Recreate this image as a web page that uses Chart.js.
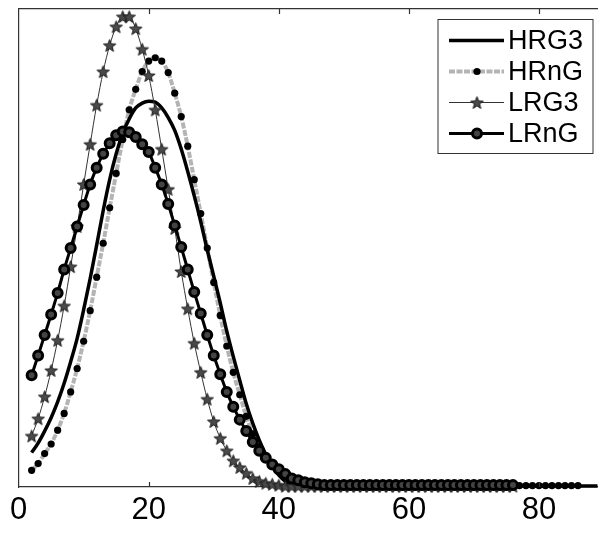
<!DOCTYPE html>
<html>
<head>
<meta charset="utf-8">
<script src="https://cdn.jsdelivr.net/npm/chart.js@4/dist/chart.umd.min.js"></script>
<style>
  html, body { margin: 0; padding: 0; background: #fff; overflow: hidden; }
  canvas { display: block; }
</style>
</head>
<body>
<canvas id="myChart1" width="605" height="534"></canvas>
<script>
// x positions of the samples (shared by all four series)
const xs = [2,3,4,5,6,7,8,9,10,11,12,13,14,15,16,17,18,19,20,21,22,23,24,25,26,27,28,29,30,
  31,32,33,34,35,36,37,38,39,40,41,42,43,44,45,46,47,48,49,50,51,52,53,54,55,56,57,58,59,60,
  61,62,63,64,65,66,67,68,69,70,71,72,73,74,75,76,77,78,79,80,81,82,83,84,85,86,87,88,89];

const xTicks = [0, 20, 40, 60, 80];
const seriesNames = ['HRG3', 'HRnG', 'LRG3', 'LRnG'];

// HRG3 (x = 2..89)
const hrg3 = [0.0072,0.0092,0.0117,0.0145,0.0178,0.0217,0.0262,0.0311,0.0371,0.0436,
  0.0506,0.0578,0.0643,0.0697,0.0740,0.0770,0.0793,0.0803,0.0807,0.0805,
  0.0793,0.0773,0.0746,0.0707,0.0660,0.0609,0.0555,0.0496,0.0441,0.0385,
  0.0326,0.0273,0.0223,0.0174,0.0133,0.0098,0.0068,0.0043,0.0025,0.0012,0.0006,
  0.0002,0.0002,0.0002,0.0002,0.0002,0.0002,0.0002,0.0002,0.0002,0.0002,
  0.0002,0.0002,0.0002,0.0002,0.0002,0.0002,0.0002,0.0002,0.0002,0.0002,
  0.0002,0.0002,0.0002,0.0002,0.0002,0.0002,0.0002,0.0002,0.0002,0.0002,
  0.0002,0.0002,0.0002,0.0002,0.0002,0.0002,0.0002,0.0002,0.0002,0.0002,
  0.0002,0.0002,0.0002,0.0002,0.0002,0.0002,0.0002];

// HRnG (x = 2..86)
const hrng = [0.0035,0.0049,0.0070,0.0090,0.0119,0.0154,0.0199,0.0248,0.0305,0.0369,
  0.0439,0.0510,0.0584,0.0656,0.0727,0.0789,0.0832,0.0869,0.0891,0.0898,
  0.0891,0.0867,0.0824,0.0775,0.0713,0.0643,0.0572,0.0500,0.0428,0.0359,
  0.0295,0.0240,0.0193,0.0148,0.0111,0.0084,0.0064,0.0047,0.0035,0.0025,
  0.0016,0.0012,0.0008,0.0006,0.0004,
  0.0003,0.0003,0.0003,0.0003,0.0003,0.0003,0.0003,0.0003,0.0003,0.0003,
  0.0003,0.0003,0.0003,0.0003,0.0003,0.0003,0.0003,0.0003,0.0003,0.0003,
  0.0003,0.0003,0.0003,0.0003,0.0003,0.0003,0.0003,0.0003,0.0003,0.0003,
  0.0003,0.0003,0.0003,0.0003,0.0003,0.0003,0.0003,0.0003,0.0003,0.0003];

// LRG3 (x = 2..76)
const lrg3 = [0.0107,0.0143,0.0189,0.0244,0.0307,0.0379,0.0461,0.0545,0.0633,0.0717,
  0.0799,0.0869,0.0924,0.0963,0.0984,0.0984,0.0959,0.0916,0.0861,0.0789,
  0.0707,0.0623,0.0541,0.0451,0.0373,0.0301,0.0240,0.0184,0.0137,0.0102,
  0.0076,0.0055,0.0041,0.0029,0.0018,0.0012,0.0008,0.0006,0.0004,
  0.0002,0.0002,0.0002,0.0002,0.0002,0.0002,0.0002,0.0002,0.0002,0.0002,
  0.0002,0.0002,0.0002,0.0002,0.0002,0.0002,0.0002,0.0002,0.0002,0.0002,
  0.0002,0.0002,0.0002,0.0002,0.0002,0.0002,0.0002,0.0002,0.0002,0.0002,
  0.0002,0.0002,0.0002,0.0002,0.0002,0.0002];

// LRnG (x = 2..76)
const lrng = [0.0234,0.0275,0.0318,0.0361,0.0406,0.0455,0.0500,0.0545,0.0590,0.0633,
  0.0668,0.0697,0.0719,0.0736,0.0744,0.0742,0.0732,0.0717,0.0701,0.0668,
  0.0633,0.0592,0.0547,0.0502,0.0455,0.0408,0.0363,0.0318,0.0275,0.0236,
  0.0199,0.0168,0.0141,0.0117,0.0094,0.0076,0.0061,0.0047,0.0037,0.0027,
  0.0018,0.0014,0.0010,0.0008,0.0006,
  0.0004,0.0004,0.0004,0.0004,0.0004,0.0004,0.0004,0.0004,0.0004,0.0004,
  0.0004,0.0004,0.0004,0.0004,0.0004,0.0004,0.0004,0.0004,0.0004,0.0004,
  0.0004,0.0004,0.0004,0.0004,0.0004,0.0004,0.0004,0.0004,0.0004,0.0004];

const FONT = '"Liberation Sans", Arial, Helvetica, sans-serif';

// filled pentagram marker like matlab's 'p'
function makeStar(r) {
  const c = document.createElement('canvas');
  const s = Math.ceil(r * 2 + 4);
  c.width = s; c.height = s;
  const g = c.getContext('2d');
  g.translate(s / 2, s / 2 + r * 0.1);
  g.beginPath();
  for (let k = 0; k < 10; k++) {
    const a = -Math.PI / 2 + k * Math.PI / 5;
    const rr = (k % 2) ? r * 0.42 : r;
    g.lineTo(rr * Math.cos(a), rr * Math.sin(a));
  }
  g.closePath();
  g.fillStyle = '#4a4a4a';
  g.fill();
  g.strokeStyle = '#1a1a1a';
  g.lineWidth = 1;
  g.stroke();
  return c;
}
const starImg = makeStar(6.5);

// small inward ticks on bottom and top edges
const inwardTicks = {
  id: 'inwardTicks',
  afterDraw(chart) {
    const ctx = chart.ctx, a = chart.chartArea, sx = chart.scales.x;
    ctx.save();
    ctx.strokeStyle = '#333';
    ctx.lineWidth = 1.2;
    xTicks.forEach(v => {
      if (v === 0) return;
      const px = Math.round(sx.getPixelForValue(v)) + 0.5;
      ctx.beginPath();
      ctx.moveTo(px, a.bottom); ctx.lineTo(px, a.bottom - 5);
      ctx.moveTo(px, a.top); ctx.lineTo(px, a.top + 5);
      ctx.stroke();
    });
    ctx.restore();
  }
};

// boxed legend inside the top right corner, line sample with marker
const boxLegend = {
  id: 'boxLegend',
  afterDatasetsDraw(chart) {
    const ctx = chart.ctx, a = chart.chartArea;
    const w = 155, h = 134;
    const x0 = a.right - w - 4.5, y0 = a.top + 10.5;
    ctx.save();
    ctx.fillStyle = '#fff';
    ctx.fillRect(x0, y0, w, h);
    ctx.strokeStyle = '#333';
    ctx.lineWidth = 1;
    ctx.strokeRect(x0, y0, w, h);
    chart.data.datasets.forEach((ds, i) => {
      const cy = y0 + 21 + i * 31;
      ctx.save();
      ctx.strokeStyle = ds.borderColor;
      ctx.lineWidth = ds.borderWidth;
      ctx.setLineDash(ds.borderDash || []);
      ctx.beginPath();
      ctx.moveTo(x0 + 11, cy); ctx.lineTo(x0 + 66, cy);
      ctx.stroke();
      ctx.restore();
      const mx = x0 + 39;
      if (ds.pointStyle === starImg) {
        ctx.drawImage(starImg, mx - starImg.width / 2, cy - starImg.height / 2);
      } else if (ds.pointRadius > 0) {
        ctx.beginPath();
        ctx.arc(mx, cy, ds.pointRadius, 0, Math.PI * 2);
        ctx.fillStyle = ds.pointBackgroundColor;
        ctx.fill();
        if (ds.pointBorderWidth) {
          ctx.lineWidth = ds.pointBorderWidth;
          ctx.strokeStyle = ds.pointBorderColor;
          ctx.stroke();
        }
      }
      ctx.fillStyle = '#000';
      ctx.font = '27px ' + FONT;
      ctx.textBaseline = 'middle';
      ctx.fillText(ds.label, x0 + 70, cy + 1);
    });
    ctx.restore();
  }
};

const ctx = document.getElementById('myChart1').getContext('2d');
const chart = new Chart(ctx, {
  type: 'line',
  data: {
    labels: xs,
    datasets: [
      {
        label: seriesNames[0],
        data: hrg3,
        borderColor: '#000',
        borderWidth: 3.5,
        pointRadius: 0,
        cubicInterpolationMode: 'monotone',
        order: 3
      },
      {
        label: seriesNames[1],
        data: hrng,
        borderColor: '#b4b4b4',
        borderWidth: 4,
        borderDash: [6, 1.5],
        pointStyle: 'circle',
        pointRadius: 3.6,
        pointBackgroundColor: '#000',
        pointBorderColor: '#000',
        pointBorderWidth: 0,
        cubicInterpolationMode: 'monotone',
        order: 4
      },
      {
        label: seriesNames[2],
        data: lrg3,
        borderColor: '#333',
        borderWidth: 1,
        pointStyle: starImg,
        pointRadius: 6,
        cubicInterpolationMode: 'monotone',
        order: 2
      },
      {
        label: seriesNames[3],
        data: lrng,
        borderColor: '#000',
        borderWidth: 3,
        pointStyle: 'circle',
        pointRadius: 4.5,
        pointBackgroundColor: '#444',
        pointBorderColor: '#000',
        pointBorderWidth: 3,
        cubicInterpolationMode: 'monotone',
        order: 1
      }
    ]
  },
  options: {
    responsive: false,
    animation: false,
    clip: false,
    layout: { padding: { left: 12, top: 9, right: 0, bottom: 0 } },
    plugins: { legend: { display: false }, tooltip: { enabled: false } },
    scales: {
      x: {
        type: 'linear',
        position: 'bottom',
        min: 0,
        max: 89,
        afterBuildTicks: axis => { axis.ticks = xTicks.map(v => ({ value: v })); },
        ticks: {
          color: '#000',
          padding: 10,
          font: { family: FONT, size: 31, lineHeight: 0.87 }
        },
        grid: { display: false, drawTicks: false },
        border: { display: true, color: '#333', width: 1.2 }
      },
      xTop: {
        type: 'linear',
        position: 'top',
        min: 0,
        max: 89,
        ticks: { display: false },
        grid: { display: false, drawTicks: false },
        border: { display: true, color: '#333', width: 1.2 }
      },
      y: {
        min: 0,
        max: 0.1,
        ticks: { display: false },
        grid: { display: false, drawTicks: false },
        border: { display: true, color: '#333', width: 1.2 }
      }
    }
  },
  plugins: [inwardTicks, boxLegend]
});
</script>
</body>
</html>
